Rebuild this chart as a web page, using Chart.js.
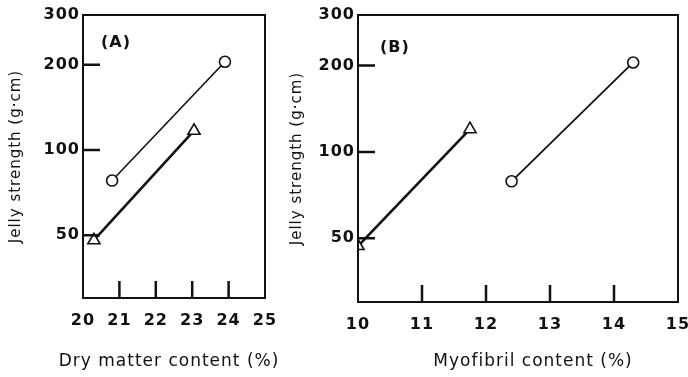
<!DOCTYPE html>
<html>
<head>
<meta charset="utf-8">
<script src="https://cdn.jsdelivr.net/npm/chart.js@4.4.1/dist/chart.umd.min.js"></script>
<style>
  html, body { margin: 0; padding: 0; background: #fff; }
  body { width: 688px; height: 377px; position: relative; overflow: hidden; }
  #wrapA { position: absolute; left: 0; top: 0; width: 280px; height: 377px; }
  #wrapB { position: absolute; left: 280px; top: 0; width: 408px; height: 377px; }
</style>
</head>
<body>
<div id="wrapA"><canvas id="chartA"></canvas></div>
<div id="wrapB"><canvas id="chartB"></canvas></div>
<script>
// y axis (log scale), shared by both panels
const yTicks = [50, 100, 200, 300];
const yMin = 30;
const yMax = 300;
const yTitle = 'Jelly strength (g\u00b7cm)';

// panel A: dry matter content
const xTicksA = [20, 21, 22, 23, 24, 25];
const xTitleA = 'Dry matter content (%)';
const circleA = [{x: 20.8, y: 78}, {x: 23.9, y: 205}];
const triangleA = [{x: 20.3, y: 48}, {x: 23.05, y: 117}];

// panel B: myofibril content
const xTicksB = [10, 11, 12, 13, 14, 15];
const xTitleB = 'Myofibril content (%)';
const triangleB = [{x: 10.0, y: 47}, {x: 11.75, y: 120}];
const circleB = [{x: 12.4, y: 79}, {x: 14.3, y: 205}];

const ink = '#111';
const fontFamily = '"DejaVu Sans", Verdana, sans-serif';

// letter spacing + frame, inward tick marks, panel letter and x title
// (x title drawn here because the axis title gets squeezed to the plot width)
const framePlugin = {
  id: 'frame',
  beforeUpdate(chart) { chart.ctx.letterSpacing = '1px'; },
  beforeDraw(chart) { chart.ctx.letterSpacing = '1px'; },
  afterDraw(chart, args, opts) {
    const {ctx, chartArea: a} = chart;
    const xs = chart.scales.x, ys = chart.scales.y;
    ctx.save();
    ctx.strokeStyle = ink;
    ctx.lineWidth = 2;
    ctx.strokeRect(a.left, a.top, a.right - a.left, a.bottom - a.top);
    ctx.lineWidth = 2.5;
    ctx.beginPath();
    opts.xTicks.slice(1, -1).forEach(v => {
      const px = xs.getPixelForValue(v);
      ctx.moveTo(px, a.bottom);
      ctx.lineTo(px, a.bottom - 17);
    });
    yTicks.slice(0, -1).forEach(v => {
      const py = ys.getPixelForValue(v);
      ctx.moveTo(a.left, py);
      ctx.lineTo(a.left + 17, py);
    });
    ctx.stroke();
    ctx.fillStyle = ink;
    ctx.textBaseline = 'middle';
    ctx.textAlign = 'left';
    ctx.font = 'bold 16px ' + fontFamily;
    ctx.fillText(opts.label, a.left + opts.labelDx, a.top + opts.labelDy);
    ctx.textAlign = 'center';
    ctx.font = '17px ' + fontFamily;
    ctx.fillText(opts.xTitle, (a.left + a.right) / 2 + opts.titleDx, chart.height - 15);
    ctx.restore();
  }
};

function seriesStyle(style, radius, width) {
  return {
    borderColor: ink,
    borderWidth: width,
    pointStyle: style,
    pointRadius: radius,
    pointBackgroundColor: '#fff',
    pointBorderColor: ink,
    pointBorderWidth: 1.6,
    showLine: true,
    tension: 0
  };
}

function makeChart(id, xTicks, xTitle, datasets, geo) {
  return new Chart(document.getElementById(id), {
    type: 'scatter',
    data: {datasets: datasets},
    options: {
      responsive: true,
      maintainAspectRatio: false,
      animation: false,
      layout: {padding: {left: 0, top: geo.top, right: geo.right, bottom: 0}},
      plugins: {
        legend: {display: false},
        tooltip: {enabled: false},
        frame: {xTicks: xTicks, xTitle: xTitle, titleDx: geo.titleDx,
                label: geo.label, labelDx: geo.labelDx, labelDy: geo.labelDy}
      },
      scales: {
        x: {
          type: 'linear',
          min: xTicks[0],
          max: xTicks[xTicks.length - 1],
          afterBuildTicks: s => { s.ticks = xTicks.map(v => ({value: v})); },
          afterFit: s => { s.height = geo.xAxisH; s.paddingLeft = 0; s.paddingRight = 0; },
          grid: {display: false, drawTicks: false},
          border: {display: false},
          ticks: {
            color: ink, padding: 13, maxRotation: 0, autoSkip: false,
            font: {family: fontFamily, size: 16, weight: 'bold'},
            callback: v => String(v)
          },
          title: {display: false}
        },
        y: {
          type: 'logarithmic',
          min: yMin,
          max: yMax,
          afterBuildTicks: s => { s.ticks = yTicks.map(v => ({value: v})); },
          afterFit: s => { s.width = geo.yAxisW; s.paddingTop = 0; s.paddingBottom = 0; },
          grid: {display: false, drawTicks: false},
          border: {display: false},
          ticks: {
            color: ink, padding: 3, autoSkip: false,
            font: {family: fontFamily, size: 16, weight: 'bold'},
            callback: v => String(v)
          },
          title: {
            display: true, text: yTitle, color: ink,
            padding: {top: geo.yTitlePad, bottom: 0},
            font: {family: fontFamily, size: 15}
          }
        }
      }
    },
    plugins: [framePlugin]
  });
}

makeChart('chartA', xTicksA, xTitleA, [
  Object.assign({label: 'circle', data: circleA}, seriesStyle('circle', 5.5, 1.6)),
  Object.assign({label: 'triangle', data: triangleA}, seriesStyle('triangle', 7, 2.6))
], {top: 15, right: 15, yAxisW: 83, xAxisH: 79, yTitlePad: 7, titleDx: -5,
    label: '(A)', labelDx: 18, labelDy: 28});

makeChart('chartB', xTicksB, xTitleB, [
  Object.assign({label: 'triangle', data: triangleB}, seriesStyle('triangle', 7, 2.6)),
  Object.assign({label: 'circle', data: circleB}, seriesStyle('circle', 5.5, 1.8))
], {top: 15, right: 10, yAxisW: 78, xAxisH: 75, yTitlePad: 8, titleDx: 15,
    label: '(B)', labelDx: 22, labelDy: 33});
</script>
</body>
</html>
